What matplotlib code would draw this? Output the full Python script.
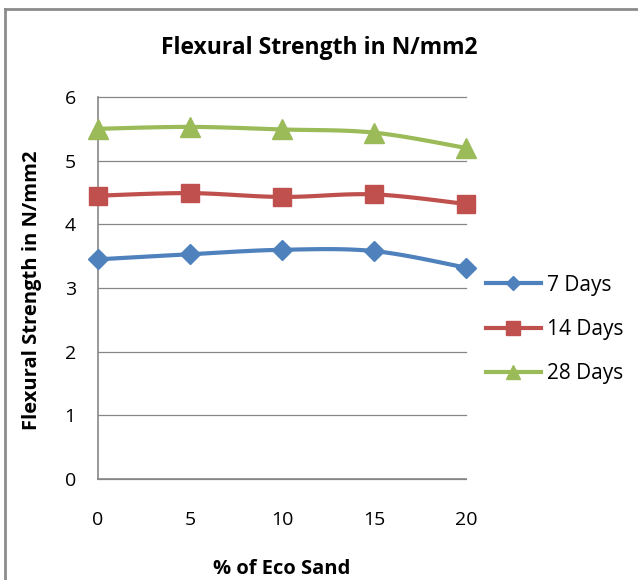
import numpy as np
import matplotlib
matplotlib.use("Agg")
import matplotlib.pyplot as plt
from matplotlib.lines import Line2D

plt.rcParams['font.family'] = ['Open Sans', 'DejaVu Sans']

# data
eco_sand = [0, 5, 10, 15, 20]
days_7 = [3.45, 3.53, 3.60, 3.58, 3.32]
days_14 = [4.45, 4.49, 4.43, 4.47, 4.32]
days_28 = [5.50, 5.53, 5.49, 5.44, 5.20]
series_names = ['7 Days', '14 Days', '28 Days']
y_ticks = [0, 1, 2, 3, 4, 5, 6]

colors = ['#4F81BD', '#C0504D', '#9BBB59']
markers = ['D', 's', '^']
msizes = [10, 13, 14]


# Excel style smoothed line (cubic bezier, catmull-rom control points)
def smooth(xs, ys, n=30):
    xs = np.asarray(xs, float)
    ys = np.asarray(ys, float)
    px = np.concatenate([[xs[0]], xs, [xs[-1]]])
    py = np.concatenate([[ys[0]], ys, [ys[-1]]])
    out_x, out_y = [], []
    t = np.linspace(0, 1, n)
    for i in range(1, len(px) - 2):
        x0, x1 = px[i], px[i + 1]
        y0, y1 = py[i], py[i + 1]
        c1x = x0 + (px[i + 1] - px[i - 1]) / 6
        c1y = y0 + (py[i + 1] - py[i - 1]) / 6
        c2x = x1 - (px[i + 2] - px[i]) / 6
        c2y = y1 - (py[i + 2] - py[i]) / 6
        bx = (1 - t) ** 3 * x0 + 3 * (1 - t) ** 2 * t * c1x + 3 * (1 - t) * t ** 2 * c2x + t ** 3 * x1
        by = (1 - t) ** 3 * y0 + 3 * (1 - t) ** 2 * t * c1y + 3 * (1 - t) * t ** 2 * c2y + t ** 3 * y1
        out_x.extend(bx)
        out_y.extend(by)
    return out_x, out_y


fig = plt.figure(figsize=(6.38, 5.8), dpi=100)
ax = fig.add_axes([0.1536, 0.1741, 0.5767, 0.6587])

grey = '#868686'
for v in y_ticks:
    ax.axhline(v, color=grey, lw=0.9, zorder=1)

handles = []
for ys, c, m, ms, name in zip([days_7, days_14, days_28], colors, markers, msizes, series_names):
    sx, sy = smooth(eco_sand, ys)
    ax.plot(sx, sy, color=c, lw=3, zorder=3, solid_capstyle='round')
    ax.plot(eco_sand, ys, linestyle='none', marker=m, ms=ms, color=c, zorder=4)
    handles.append(Line2D([], [], color=c, lw=3, marker=m, ms=ms * 0.75, label=name))

ax.set_xlim(0, 20)
ax.set_ylim(0, 6)
ax.set_xticks(eco_sand)
ax.set_yticks(y_ticks)
ax.tick_params(axis='both', length=0, labelsize=14)
ax.tick_params(axis='x', pad=23)
ax.tick_params(axis='y', pad=16)
for s in ['top', 'right']:
    ax.spines[s].set_visible(False)
for s in ['left', 'bottom']:
    ax.spines[s].set_color(grey)
    ax.spines[s].set_linewidth(1.2)
for ln in ax.lines:
    ln.set_clip_on(False)

fig.text(0.5, 0.918, 'Flexural Strength in N/mm2', ha='center', va='center',
         fontsize=16.5, fontweight='bold')
fig.text(0.442, 0.019, '% of Eco Sand', ha='center', va='center',
         fontsize=14.5, fontweight='bold')
fig.text(0.05, 0.5, 'Flexural Strength in N/mm2', ha='center', va='center',
         rotation=90, fontsize=14.5, fontweight='bold')

leg = fig.legend(handles=handles, loc='center left', bbox_to_anchor=(0.733, 0.432),
                 frameon=False, fontsize=15, handlelength=2.6, labelspacing=1.12,
                 handletextpad=0.3)

# outer chart border
fig.add_artist(Line2D([0.008, 0.008], [0, 0.984], color='#8c8c8c', lw=2))
fig.add_artist(Line2D([0.008, 1], [0.984, 0.984], color='#8c8c8c', lw=2))

fig.savefig('out.png', dpi=100)
